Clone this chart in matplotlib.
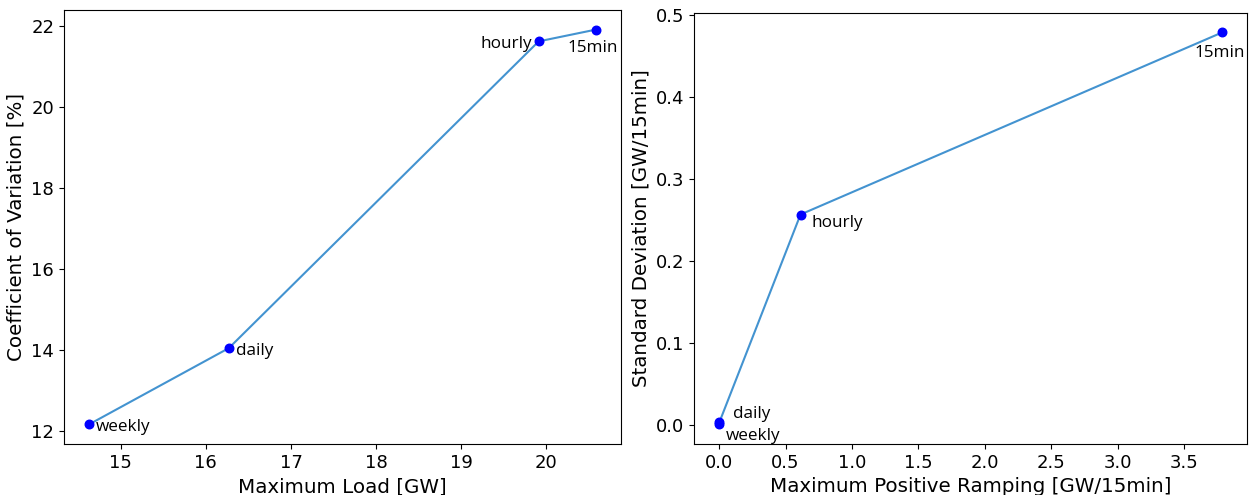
import numpy as np
import matplotlib
matplotlib.use('Agg')
import matplotlib.pyplot as plt

# left panel: max load vs coefficient of variation
labels = ['weekly', 'daily', 'hourly', '15min']
max_load = [14.63, 16.27, 19.91, 20.58]
coef_var = [12.17, 14.05, 21.62, 21.91]

# right panel: max positive ramping vs std deviation
max_ramp = [0.0, 0.003, 0.613, 3.787]
std_dev = [0.001, 0.004, 0.257, 0.479]

line_color = '#4393d0'
ann_font = 'Open Sans'

fig = plt.figure(figsize=(12.49, 4.95), dpi=100)
ax1 = fig.add_axes([0.0512, 0.103, 0.446, 0.877])
ax2 = fig.add_axes([0.5556, 0.103, 0.443, 0.871])

ax1.plot(max_load, coef_var, color=line_color, lw=1.5)
ax1.scatter(max_load, coef_var, color='blue', s=38, zorder=3)
ax1.set_xlabel('Maximum Load [GW]', fontsize=14.3)
ax1.set_ylabel('Coefficient of Variation [%]', fontsize=14.3)
ax1.tick_params(labelsize=13)

offsets1 = [(5, -5), (5, -5), (-42, -5), (-20, -16)]
for lab, x, y, off in zip(labels, max_load, coef_var, offsets1):
    ax1.annotate(lab, (x, y), xytext=off, textcoords='offset points',
                 fontsize=12.3, family=ann_font)

ax2.plot(max_ramp, std_dev, color=line_color, lw=1.5)
ax2.scatter(max_ramp, std_dev, color='blue', s=38, zorder=3)
ax2.set_xlabel('Maximum Positive Ramping [GW/15min]', fontsize=14.3)
ax2.set_ylabel('Standard Deviation [GW/15min]', fontsize=14.3)
ax2.tick_params(labelsize=13)

offsets2 = [(5, -11), (10, 3), (8, -9), (-20, -18)]
for lab, x, y, off in zip(labels, max_ramp, std_dev, offsets2):
    ax2.annotate(lab, (x, y), xytext=off, textcoords='offset points',
                 fontsize=12.3, family=ann_font)

fig.savefig('out.png', dpi=100)
